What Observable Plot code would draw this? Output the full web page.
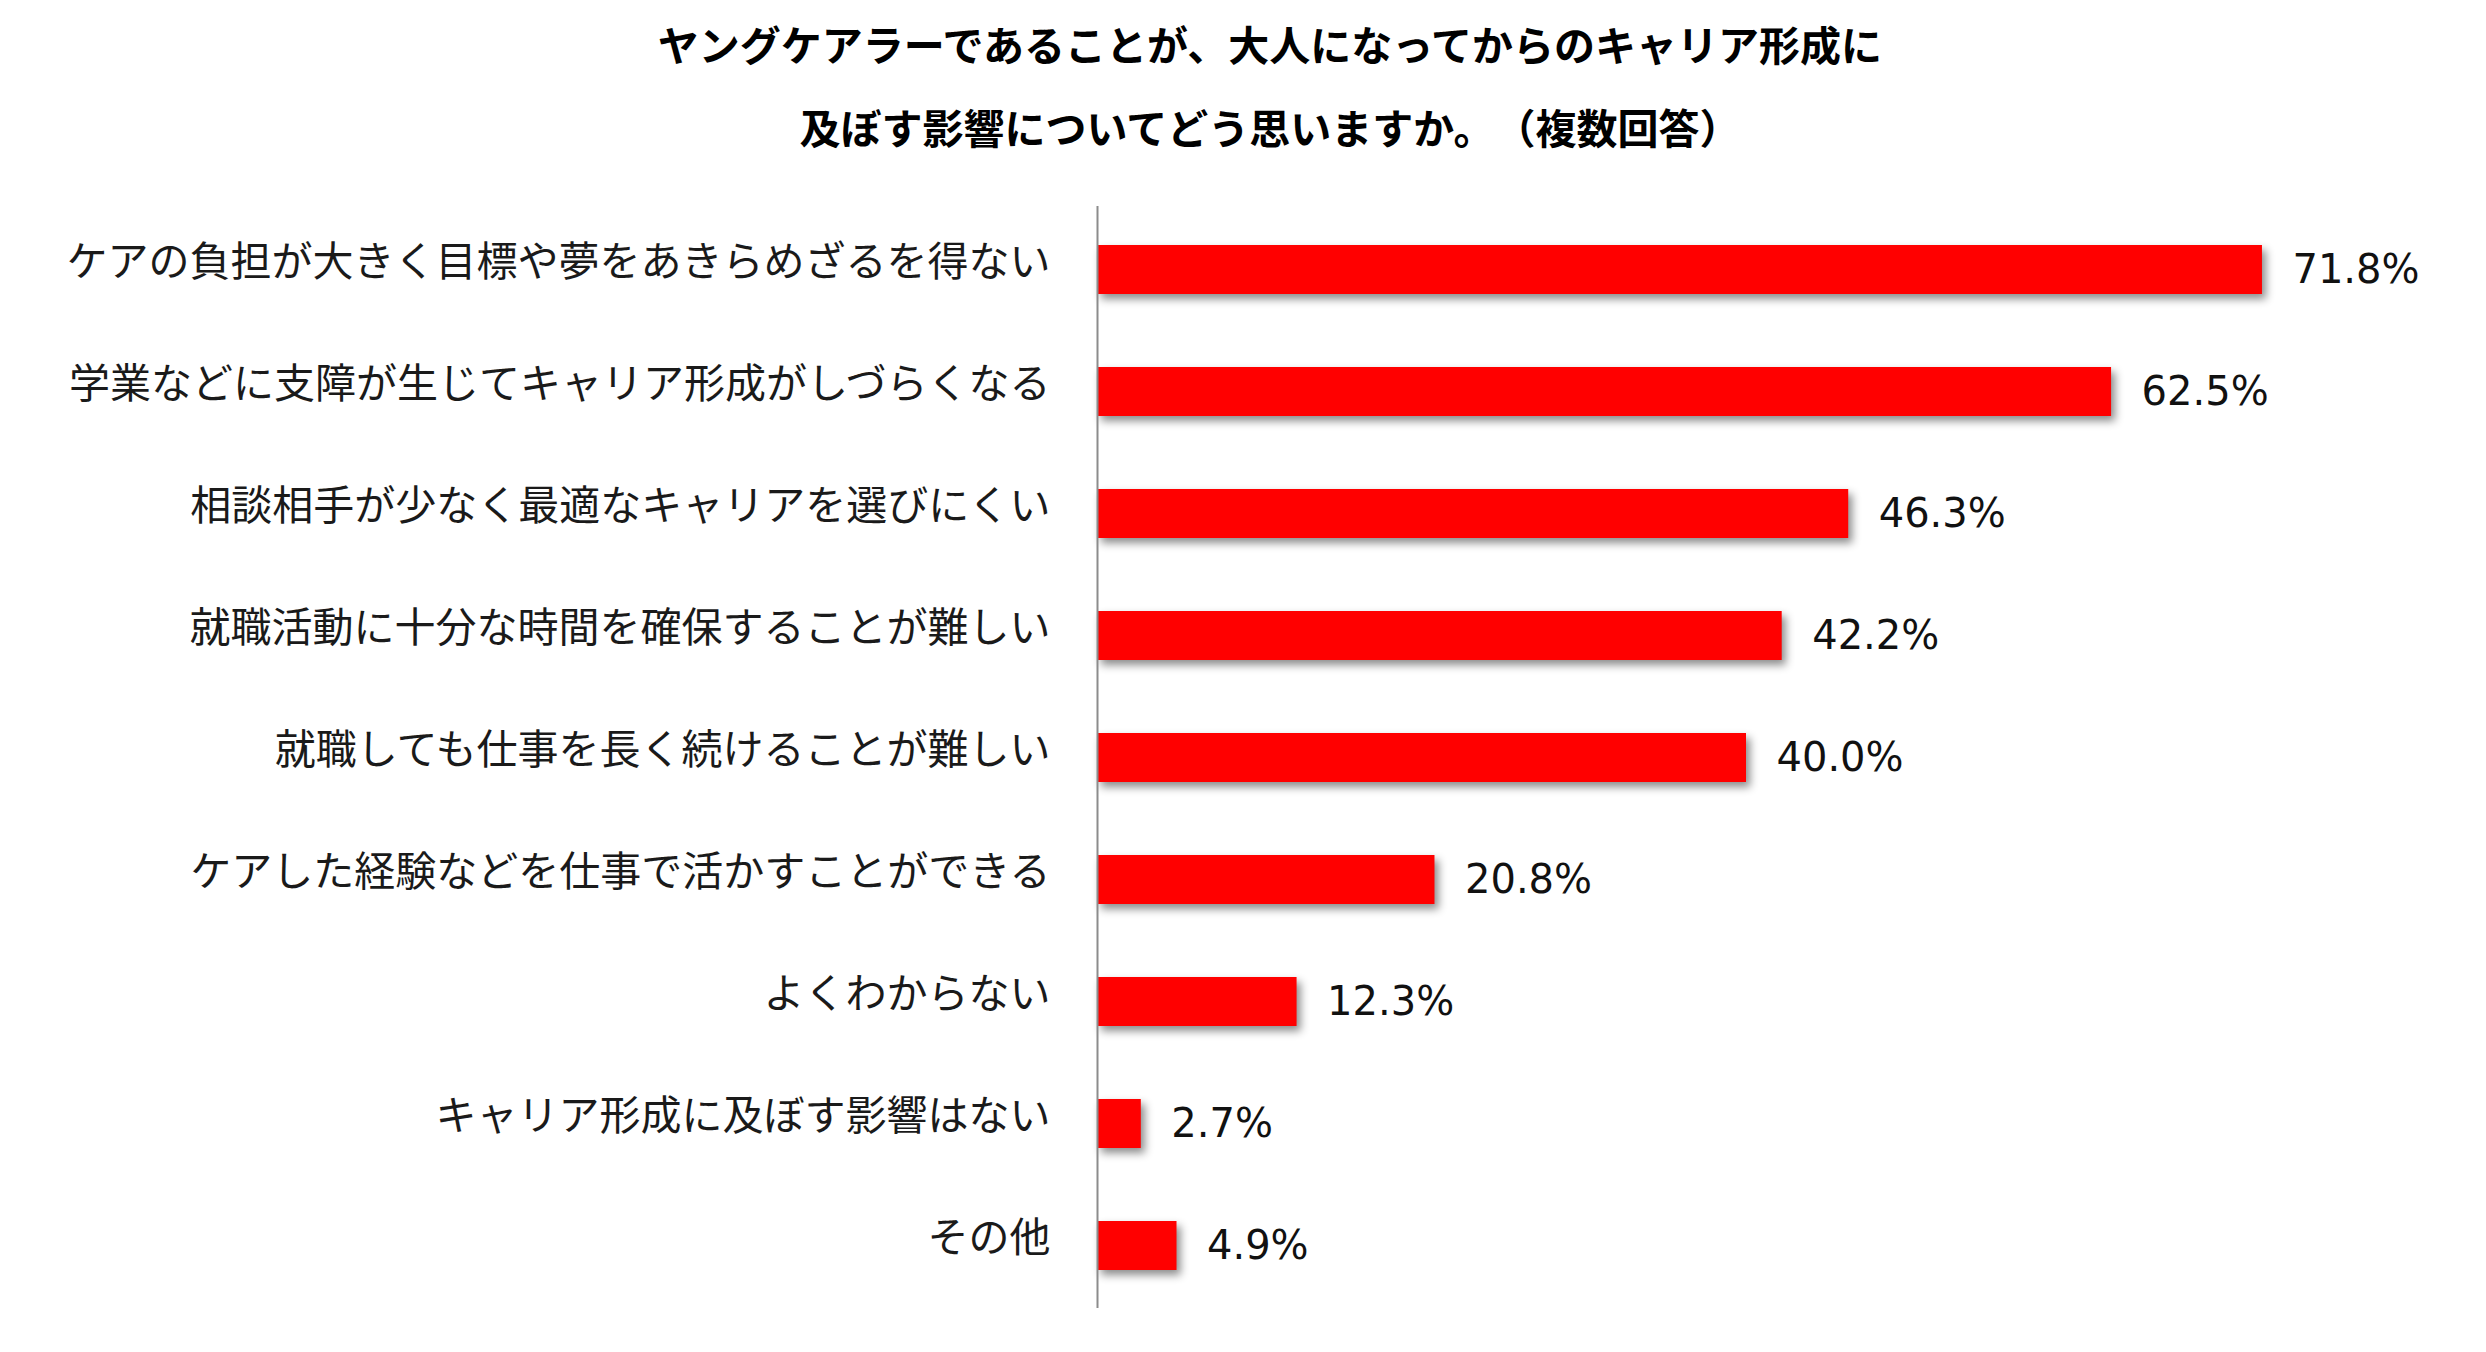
<!DOCTYPE html>
<html>
<head>
<meta charset="utf-8">
<script src="https://cdn.jsdelivr.net/npm/d3@7"></script>
<script src="https://cdn.jsdelivr.net/npm/@observablehq/plot@0.6"></script>
<style>
  html, body { margin: 0; padding: 0; background: #fff; }
  #title {
    width: 2486px; height: 180px; box-sizing: border-box;
    padding-top: 2px; padding-left: 54px;
    text-align: center;
    font-family: "Noto Sans CJK JP", sans-serif;
    font-weight: 700; font-size: 41px; line-height: 83px; color: #000;
    text-spacing-trim: space-all;
  }
  #chart svg g[aria-label="bar"] { filter: drop-shadow(4px 5px 4px rgba(0,0,0,0.45)); }
</style>
</head>
<body>
<div id="title">ヤングケアラーであることが、大人になってからのキャリア形成に<br>及ぼす影響についてどう思いますか。（複数回答）</div>
<div id="chart"></div>
<script>
const categories = [
  "ケアの負担が大きく目標や夢をあきらめざるを得ない",
  "学業などに支障が生じてキャリア形成がしづらくなる",
  "相談相手が少なく最適なキャリアを選びにくい",
  "就職活動に十分な時間を確保することが難しい",
  "就職しても仕事を長く続けることが難しい",
  "ケアした経験などを仕事で活かすことができる",
  "よくわからない",
  "キャリア形成に及ぼす影響はない",
  "その他"
];
const values = [71.8, 62.5, 46.3, 42.2, 40.0, 20.8, 12.3, 2.7, 4.9];

const data = categories.map((c, i) => ({category: c, value: values[i]}));

const chart = Plot.plot({
  width: 2486,
  height: 1172,
  marginLeft: 1097,
  marginRight: 91,
  marginTop: 26,
  marginBottom: 44,
  style: {fontFamily: "'Noto Sans CJK JP', sans-serif", background: "#fff", color: "#1a1a1a"},
  x: {domain: [0, 80], axis: null},
  y: {domain: categories, paddingInner: 0.6, paddingOuter: 0.3, label: null},
  marks: [
    Plot.barX(data, {x: "value", y: "category", fill: "#ff0000"}),
    Plot.ruleX([0], {stroke: "#8c8c8c", strokeWidth: 2}),
    Plot.axisY({tickSize: 0, tickPadding: 47, fontSize: 41, dy: -7, label: null}),
    Plot.text(data, {
      x: "value", y: "category", text: d => d.value.toFixed(1) + "%",
      textAnchor: "start", dx: 30, fontSize: 40,
      fontFamily: "'DejaVu Sans', Verdana, sans-serif", fill: "#111"
    })
  ]
});
document.getElementById("chart").appendChild(chart);
</script>
</body>
</html>
